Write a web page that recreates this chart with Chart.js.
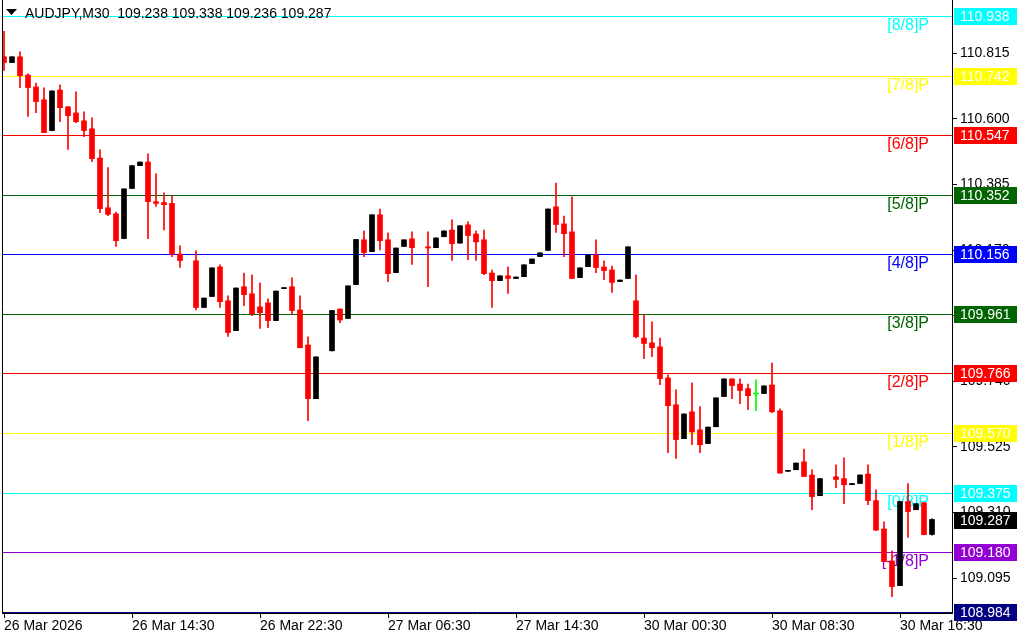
<!DOCTYPE html>
<html>
<head>
<meta charset="utf-8">
<script src="https://cdn.jsdelivr.net/npm/chart.js@4.4.1/dist/chart.umd.min.js"></script>
<style>
html,body{margin:0;padding:0;background:#fff;overflow:hidden}
canvas{display:block}
</style>
</head>
<body>
<canvas id="chart" width="1024" height="640"></canvas>
<script>
// AUDJPY M30 candles (null = no candle drawn there)
const symbolTitle="AUDJPY,M30";
const headerValues=["109.238","109.338","109.236","109.287"];
const lastPrice=109.287;

const tickLabels=["26 Mar 2026","26 Mar 14:30","26 Mar 22:30","27 Mar 06:30","27 Mar 14:30","30 Mar 00:30","30 Mar 08:30","30 Mar 16:30"];
const tickEvery=16;
const yTicks=[109.095,109.310,109.525,109.740,109.955,110.170,110.385,110.600,110.815];

const opens=[110.804,110.785,110.804,110.744,110.705,110.663,110.562,110.695,110.640,110.620,
110.594,110.568,110.472,110.309,110.289,110.208,110.372,110.447,110.459,110.329,
110.326,110.323,110.157,null,110.135,109.982,110.018,110.115,110.004,109.906,
110.050,110.027,109.984,109.997,109.939,110.044,110.050,109.974,109.859,109.683,
null,109.840,109.977,109.946,110.057,110.204,110.165,110.286,110.204,110.096,
110.182,110.207,null,110.181,110.178,110.214,110.236,110.193,110.253,110.223,
110.204,110.095,110.070,110.086,110.077,110.083,110.126,110.149,110.169,110.312,
110.256,110.230,110.080,110.116,110.154,110.115,110.105,110.067,110.077,110.004,
109.882,109.866,109.853,109.751,109.663,109.552,109.640,109.581,109.536,109.591,
109.690,109.748,109.731,109.716,109.698,109.700,109.728,109.643,109.445,109.450,
109.476,109.433,109.365,null,109.427,109.421,109.401,109.405,109.436,109.349,
109.256,109.151,109.070,109.346,109.319,109.342,109.238];
const highs=[110.887,110.804,110.820,110.748,110.718,110.702,110.692,110.712,110.640,110.689,
110.623,110.604,110.499,110.441,110.295,110.371,110.447,110.459,110.486,110.420,
110.358,110.349,110.184,null,110.168,110.013,110.112,110.122,110.020,110.046,
110.095,110.089,110.063,110.010,110.036,110.047,110.079,110.020,109.886,109.820,
null,109.972,109.977,110.053,110.205,110.233,110.286,110.305,110.227,110.177,
110.204,110.230,null,110.230,110.210,110.233,110.269,110.250,110.263,110.233,
110.236,110.105,110.086,110.115,110.082,110.122,110.141,110.161,110.305,110.390,
110.282,110.345,110.112,110.154,110.204,110.135,110.118,110.072,110.181,110.089,
109.958,109.935,109.882,109.761,109.712,109.633,109.735,109.657,109.590,109.686,
109.748,109.748,109.748,109.731,109.745,109.725,109.800,109.650,109.447,109.472,
109.518,109.450,109.421,null,109.466,109.489,109.405,109.433,109.466,109.384,
109.279,109.184,109.346,109.405,109.339,109.342,109.289];
const lows=[110.759,110.785,110.703,110.608,110.621,110.555,110.562,110.591,110.500,110.588,
110.542,110.460,110.293,110.283,110.182,110.208,110.372,110.447,110.208,110.313,
110.236,110.149,110.113,null,109.974,109.982,110.018,109.982,109.887,109.906,
109.988,109.955,109.913,109.916,109.939,110.044,109.962,109.850,109.611,109.683,
null,109.840,109.932,109.946,110.057,110.149,110.165,110.171,110.067,110.096,
110.182,110.123,null,110.050,110.178,110.214,110.136,110.193,110.139,110.136,
110.090,109.982,110.070,110.028,110.077,110.083,110.126,110.149,110.169,110.228,
110.149,110.077,110.080,110.116,110.096,110.073,110.031,110.067,110.077,109.882,
109.814,109.821,109.729,109.506,109.487,109.552,109.532,109.506,109.536,109.591,
109.690,109.683,109.667,109.647,109.644,109.700,109.637,109.439,109.445,109.450,
109.428,109.319,109.365,null,109.391,109.339,109.401,109.405,109.336,109.250,
109.149,109.034,109.070,109.228,109.319,109.237,109.236];
const closes=[110.785,110.804,110.742,110.703,110.657,110.555,110.692,110.637,110.611,110.591,
110.562,110.470,110.306,110.287,110.201,110.371,110.447,110.459,110.329,110.323,
110.319,110.157,110.136,null,109.982,110.013,110.112,110.001,109.900,110.046,
110.024,109.961,109.965,109.939,110.036,110.047,109.972,109.850,109.683,109.820,
null,109.972,109.941,110.053,110.205,110.162,110.286,110.201,110.093,110.177,
110.204,110.178,null,110.177,110.210,110.233,110.191,110.250,110.218,110.197,
110.093,110.070,110.086,110.077,110.082,110.122,110.141,110.161,110.305,110.254,
110.224,110.077,110.112,110.154,110.113,110.103,110.064,110.072,110.181,109.886,
109.864,109.850,109.749,109.660,109.549,109.633,109.574,109.532,109.590,109.686,
109.748,109.726,109.710,109.693,109.698,109.725,109.640,109.439,109.447,109.472,
109.428,109.362,109.421,null,109.418,109.401,109.405,109.433,109.349,109.252,
109.149,109.067,109.346,109.313,109.339,109.237,109.287];

// Murray math levels
const levelNames=["[8/8]P","[7/8]P","[6/8]P","[5/8]P","[4/8]P","[3/8]P","[2/8]P","[1/8]P","[0/8]P","[-1/8]P","[-2/8]P"];
const levelPrices=[110.938,110.742,110.547,110.352,110.156,109.961,109.766,109.570,109.375,109.180,108.984];
const levelColors=["#00FFFF","#FFFF00","#FF0000","#006400","#0000FF","#006400","#FF0000","#FFFF00","#00FFFF","#9400D3","#000080"];

const FONT='"Liberation Sans", Arial, sans-serif';

const bodies=[], wicks=[], colors=[];
opens.forEach((o,i)=>{
  if(o===null) return;
  const c=closes[i];
  const col=c>o?"#000000":(c<o?"#FF0000":"#00FF00");
  bodies.push({x:i,y:[o,c]});
  wicks.push({x:i,y:[lows[i],highs[i]]});
  colors.push(col);
});

const murray={
  id:"murray",
  beforeDatasetsDraw(chart){
    const {ctx,chartArea:a,scales:{y}}=chart;
    ctx.save();
    ctx.beginPath();
    ctx.rect(a.left,a.top,a.right-a.left,a.bottom-a.top);
    ctx.clip();
    ctx.lineWidth=1;
    ctx.font="16px "+FONT;
    ctx.textAlign="right";
    ctx.textBaseline="top";
    levelPrices.forEach((p,k)=>{
      const py=Math.round(y.getPixelForValue(p))+0.5;
      ctx.strokeStyle=levelColors[k];
      ctx.beginPath();ctx.moveTo(a.left,py);ctx.lineTo(a.right,py);ctx.stroke();
      ctx.fillStyle=levelColors[k];
      ctx.fillText(levelNames[k],929,py+1);
    });
    ctx.restore();
  },
  afterDraw(chart){
    const {ctx,chartArea:a,scales:{y}}=chart;
    ctx.save();
    // left frame
    ctx.strokeStyle="#000";ctx.lineWidth=1;
    ctx.beginPath();ctx.moveTo(a.left+0.5,0);ctx.lineTo(a.left+0.5,a.bottom);ctx.stroke();
    // price boxes on the right scale
    ctx.font="14px "+FONT;
    ctx.textAlign="left";ctx.textBaseline="middle";
    const box=(p,bg)=>{
      const py=Math.round(y.getPixelForValue(p));
      ctx.fillStyle=bg;
      ctx.fillRect(a.right+2,py-8,63,17);
      ctx.fillStyle="#fff";
      ctx.fillText(p.toFixed(3),a.right+8,py+1);
    };
    levelPrices.forEach((p,k)=>box(p,levelColors[k]));
    box(lastPrice,"#000");
    // header
    ctx.fillStyle="#000";
    ctx.beginPath();ctx.moveTo(6,9);ctx.lineTo(17,9);ctx.lineTo(11.5,15);ctx.closePath();ctx.fill();
    ctx.font="14px "+FONT;ctx.textBaseline="middle";
    ctx.fillText(symbolTitle+"  "+headerValues.join(" "),25,14);
    ctx.restore();
  }
};

new Chart(document.getElementById("chart"),{
  type:"bar",
  data:{
    datasets:[
      {data:bodies,backgroundColor:colors,barThickness:5,minBarLength:1,order:1},
      {data:wicks,backgroundColor:colors,barThickness:1,minBarLength:1,order:2}
    ]
  },
  options:{
    responsive:false,
    animation:false,
    devicePixelRatio:1,
    events:[],
    layout:{padding:{left:2,top:0,right:0,bottom:0}},
    datasets:{bar:{grouped:false,borderWidth:0}},
    plugins:{legend:{display:false},tooltip:{enabled:false}},
    scales:{
      x:{
        type:"linear",min:-0.25,max:118.5,offset:false,
        afterBuildTicks(s){s.ticks=tickLabels.map((t,k)=>({value:k*tickEvery}));},
        afterFit(s){s.height=27;s.paddingLeft=0;s.paddingRight=0;},
        ticks:{autoSkip:false,maxRotation:0,align:"start",padding:0,color:"#000",
          font:{family:FONT,size:14},
          callback:(v)=>tickLabels[Math.round(v/tickEvery)]},
        grid:{drawOnChartArea:false,offset:false,tickLength:5,color:"#000"},
        border:{display:true,color:"#000"}
      },
      y:{
        type:"linear",position:"right",min:108.9805,max:110.99,
        afterBuildTicks(s){s.ticks=yTicks.map(v=>({value:v}));},
        afterFit(s){s.width=72;s.paddingTop=0;s.paddingBottom=0;},
        ticks:{padding:3,color:"#000",font:{family:FONT,size:14},callback:(v)=>v.toFixed(3)},
        grid:{drawOnChartArea:false,tickLength:5,color:"#000"},
        border:{display:true,color:"#000"}
      }
    }
  },
  plugins:[murray]
});
</script>
</body>
</html>
